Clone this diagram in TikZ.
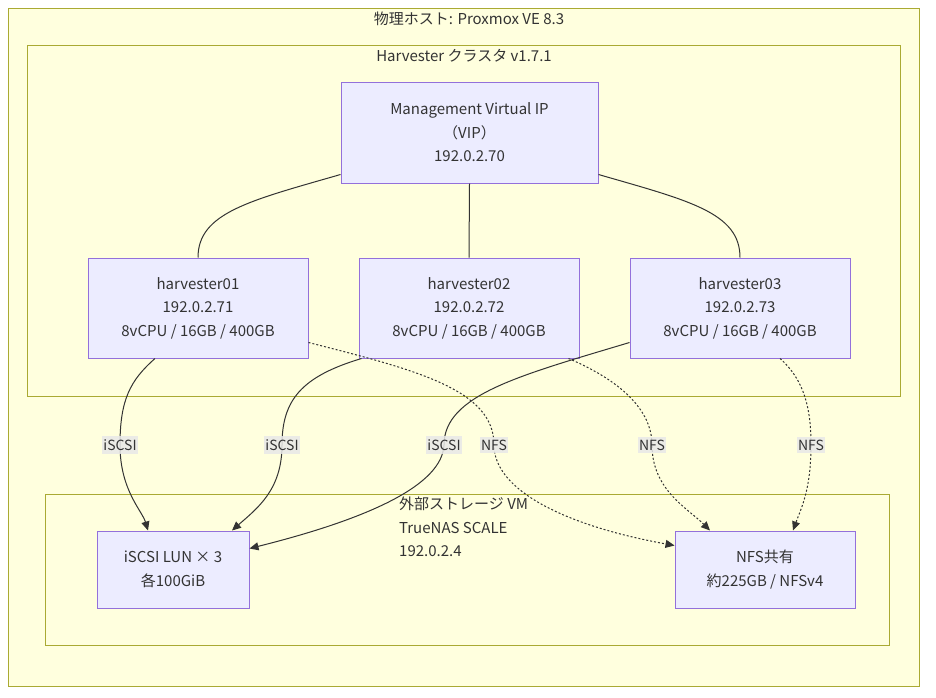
\documentclass[tikz,border=0pt]{standalone}
\usepackage{fontspec}
\setmainfont{Noto Sans CJK JP}
\usetikzlibrary{arrows.meta,calc}
\definecolor{clfill}{HTML}{FFFFDE}
\definecolor{clstroke}{HTML}{AAAA33}
\definecolor{ndfill}{HTML}{ECECFF}
\definecolor{ndstroke}{HTML}{9370DB}
\definecolor{txt}{HTML}{333333}
\definecolor{lbfill}{HTML}{E8E8E8}
\tikzset{
  cluster/.style={draw=clstroke, fill=clfill, line width=1pt, inner sep=0pt, rectangle},
  box/.style={draw=ndstroke, fill=ndfill, line width=1pt, inner sep=0pt, rectangle, align=center, text=txt, font=\fontsize{15}{23.5}\selectfont},
  ttl/.style={text=txt, font=\fontsize{15}{23.5}\selectfont, inner sep=0pt},
  conn/.style={draw=txt, line width=1pt},
  arr/.style={conn, -{Triangle[length=9pt,width=8pt]}},
  dot/.style={dash pattern=on 2pt off 2pt},
  elab/.style={fill=lbfill, fill opacity=0.85, text opacity=1, text=txt, font=\fontsize{14}{16}\selectfont, inner xsep=1pt, inner ysep=3pt}
}
\begin{document}
\begin{tikzpicture}[x=1pt,y=-1pt]
\useasboundingbox[fill=white] (0,0) rectangle (936,697);
% clusters
\node[cluster, minimum width=911pt, minimum height=678pt] (host) at (463.5,347) {};
\node[ttl] (hostt) at (469,19) {物理ホスト: Proxmox VE 8.3};
\node[cluster, minimum width=873pt, minimum height=351pt] (hv) at (463.5,220.5) {};
\node[ttl] (hvt) at (464,56) {Harvester クラスタ v1.7.1};
\node[cluster, minimum width=844pt, minimum height=151pt] (st) at (467,569.5) {};
\node[ttl, anchor=north west, align=left] (stt) at (399,497) {外部ストレージ VM\\TrueNAS SCALE\\192.0.2.4};
% nodes
\node[box, minimum width=257pt, minimum height=101pt] (vip) at (469.5,132.5) {Management Virtual IP\\（VIP）\\192.0.2.70};
\node[box, minimum width=220pt, minimum height=100pt] (h1) at (198,308) {harvester01\\192.0.2.71\\8vCPU / 16GB / 400GB};
\node[box, minimum width=220pt, minimum height=100pt] (h2) at (469,308) {harvester02\\192.0.2.72\\8vCPU / 16GB / 400GB};
\node[box, minimum width=220pt, minimum height=100pt] (h3) at (740,308) {harvester03\\192.0.2.73\\8vCPU / 16GB / 400GB};
\node[box, minimum width=152pt, minimum height=77pt] (lun) at (173,569.5) {iSCSI LUN × 3\\各100GiB};
\node[box, minimum width=180pt, minimum height=77pt] (nfs) at (765,569.5) {NFS共有\\約225GB / NFSv4};
% label positions
\coordinate (l1) at (120,445);
\coordinate (l2) at (282,445);
\coordinate (l3) at (444,445);
\coordinate (l4) at (494,445);
\coordinate (l5) at (652,445);
\coordinate (l6) at (811,445);
% VIP edges
\draw[conn] ($(vip.south west)+(0,-9)$) .. controls +(-90,26) and +(0,-45) .. (h1.north);
\draw[conn] (vip.south) -- (h2.north);
\draw[conn] ($(vip.south east)+(0,-9)$) .. controls +(90,26) and +(0,-45) .. (h3.north);
% iSCSI edges
\draw[arr] ($(h1.south)+(-43,0)$) .. controls +(-25,22) and +(0,-45) .. (l1) .. controls +(0,45) and +(-6,-20) .. ($(lun.north)+(-25,0)$);
\draw[arr] ($(h2.south west)+(3,0)$) .. controls +(-60,18) and +(0,-45) .. (l2) .. controls +(0,45) and +(25,-22) .. ($(lun.north)+(59,0)$);
\draw[arr] ($(h3.south west)+(0,-16)$) .. controls +(-110,33) and +(0,-50) .. (l3) .. controls +(-2,40) and +(120,-30) .. ($(lun.east)+(0,-21)$);
% NFS edges
\draw[arr, dot] ($(h1.south east)+(0,-16)$) .. controls +(110,28) and +(0,-55) .. (l4) .. controls +(0,45) and +(-110,-20) .. ($(nfs.west)+(0,-24)$);
\draw[arr, dot] ($(h2.south east)+(-11,0)$) .. controls +(52,22) and +(0,-35) .. (l5) .. controls +(0,45) and +(-22,-22) .. ($(nfs.north)+(-55,0)$);
\draw[arr, dot] ($(h3.south)+(40,0)$) .. controls +(25,22) and +(0,-35) .. (l6) .. controls +(0,45) and +(8,-22) .. ($(nfs.north)+(28,0)$);
% edge labels
\node[elab] (e1) at (l1) {iSCSI};
\node[elab] (e2) at (l2) {iSCSI};
\node[elab] (e3) at (l3) {iSCSI};
\node[elab] (e4) at (l4) {NFS};
\node[elab] (e5) at (l5) {NFS};
\node[elab] (e6) at (l6) {NFS};
\end{tikzpicture}
\end{document}
